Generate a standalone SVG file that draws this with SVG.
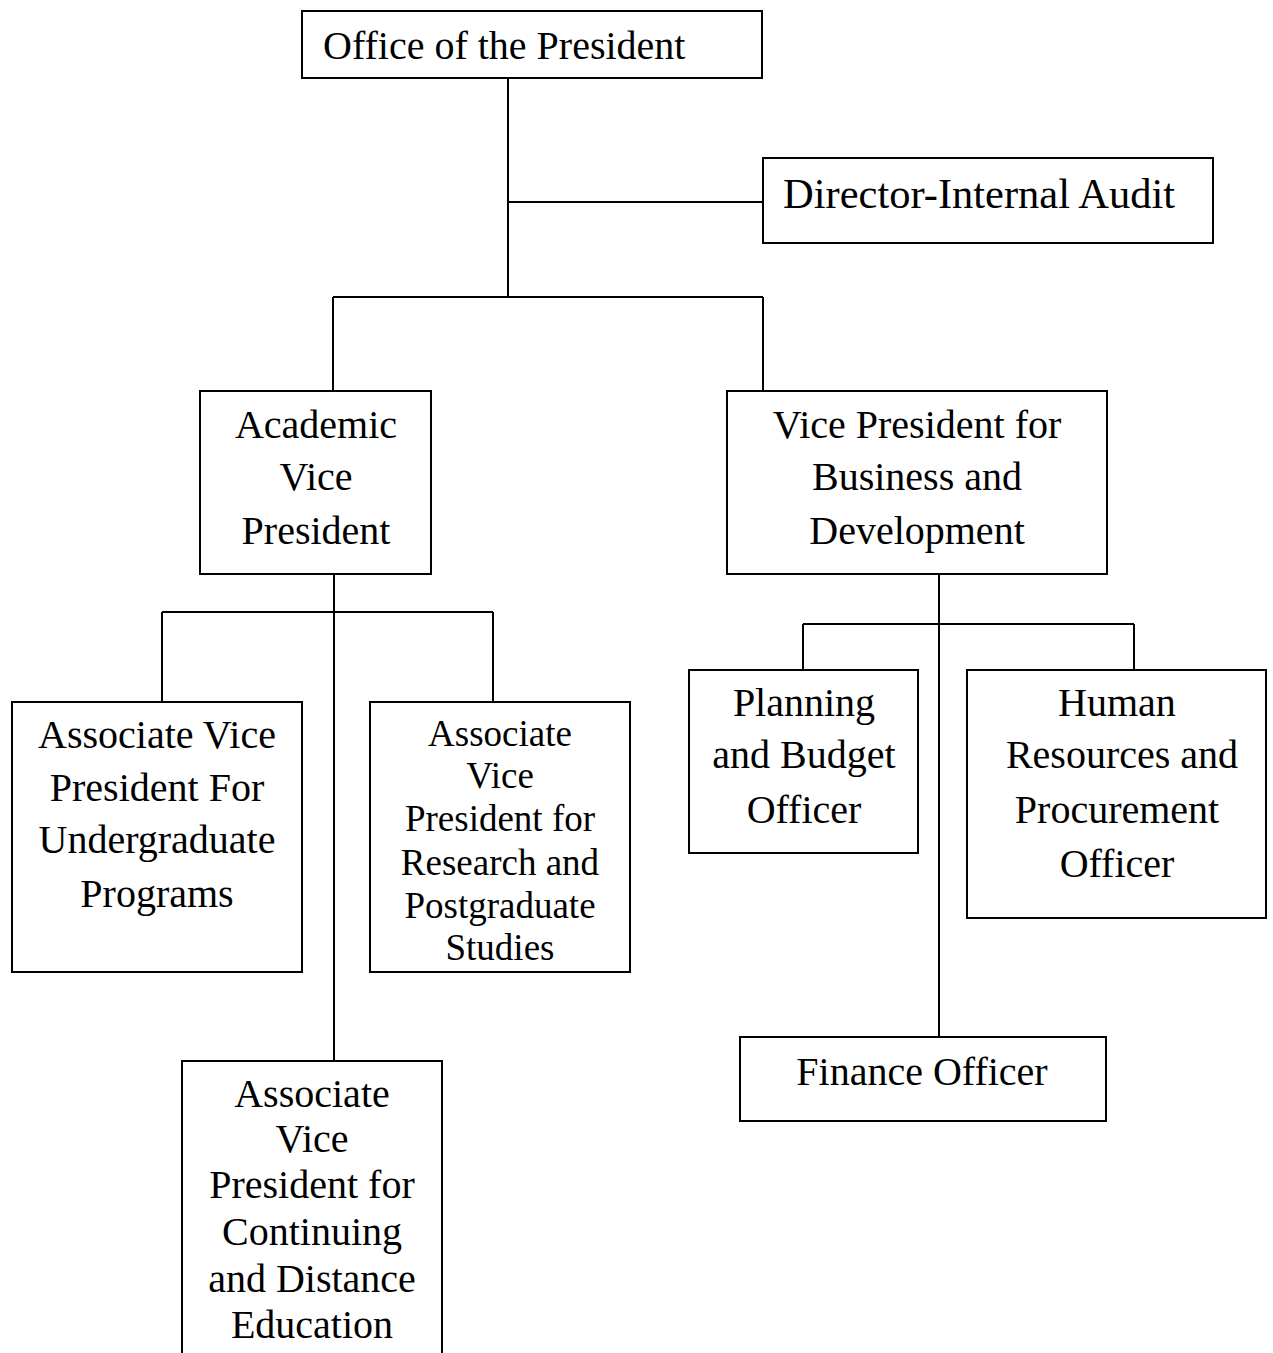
<svg xmlns="http://www.w3.org/2000/svg" width="1273" height="1353" viewBox="0 0 1273 1353">
<style>
.box{fill:#fff;stroke:#000;stroke-width:2}
.ln{fill:none;stroke:#000;stroke-width:2}
text{font-family:"Liberation Serif","Times New Roman",serif;fill:#000;font-size:40px}
.c{text-anchor:middle}
.s{font-size:37px}
</style>
<rect width="1273" height="1353" fill="#fff"/>
<g id="connectors">
<path class="ln" d="M508 78V297M508 202H763M333 297H763M333 297V391M763 297V391"/>
<path class="ln" d="M334 574V1061M162 612H493M162 612V702M493 612V702"/>
<path class="ln" d="M939 574V1037M803 624H1134M803 624V670M1134 624V670"/>
</g>
<g id="office">
<rect class="box" x="302" y="11" width="460" height="67"/>
<text x="323" y="59">Office of the President</text>
</g>
<g id="audit">
<rect class="box" x="763" y="158" width="450" height="85"/>
<text x="783" y="208" style="font-size:42.5px">Director-Internal Audit</text>
</g>
<g id="avp-academic">
<rect class="box" x="200" y="391" width="231" height="183"/>
<text class="c" x="316" y="438">Academic</text>
<text class="c" x="316" y="490">Vice</text>
<text class="c" x="316" y="544">President</text>
</g>
<g id="vp-business">
<rect class="box" x="727" y="391" width="380" height="183"/>
<text class="c" x="917" y="438">Vice President for</text>
<text class="c" x="917" y="490">Business and</text>
<text class="c" x="917" y="544">Development</text>
</g>
<g id="avp-undergrad">
<rect class="box" x="12" y="702" width="290" height="270"/>
<text class="c" x="157" y="748">Associate Vice</text>
<text class="c" x="157" y="801">President For</text>
<text class="c" x="157" y="853">Undergraduate</text>
<text class="c" x="157" y="907">Programs</text>
</g>
<g id="avp-research">
<rect class="box" x="370" y="702" width="260" height="270"/>
<text class="c s" x="500" y="746">Associate</text>
<text class="c s" x="500" y="788">Vice</text>
<text class="c s" x="500" y="831">President for</text>
<text class="c s" x="500" y="875">Research and</text>
<text class="c s" x="500" y="918">Postgraduate</text>
<text class="c s" x="500" y="960">Studies</text>
</g>
<g id="avp-continuing">
<rect class="box" x="182" y="1061" width="260" height="310"/>
<text class="c" x="312" y="1107">Associate</text>
<text class="c" x="312" y="1152">Vice</text>
<text class="c" x="312" y="1198">President for</text>
<text class="c" x="312" y="1245">Continuing</text>
<text class="c" x="312" y="1292">and Distance</text>
<text class="c" x="312" y="1338">Education</text>
</g>
<g id="planning">
<rect class="box" x="689" y="670" width="229" height="183"/>
<text class="c" x="804" y="716">Planning</text>
<text class="c" x="804" y="768">and Budget</text>
<text class="c" x="804" y="823">Officer</text>
</g>
<g id="hr">
<rect class="box" x="967" y="670" width="299" height="248"/>
<text class="c" x="1117" y="716">Human</text>
<text class="c" x="1122" y="768">Resources and</text>
<text class="c" x="1117" y="823">Procurement</text>
<text class="c" x="1117" y="877">Officer</text>
</g>
<g id="finance">
<rect class="box" x="740" y="1037" width="366" height="84"/>
<text class="c" x="922" y="1085">Finance Officer</text>
</g>
</svg>
